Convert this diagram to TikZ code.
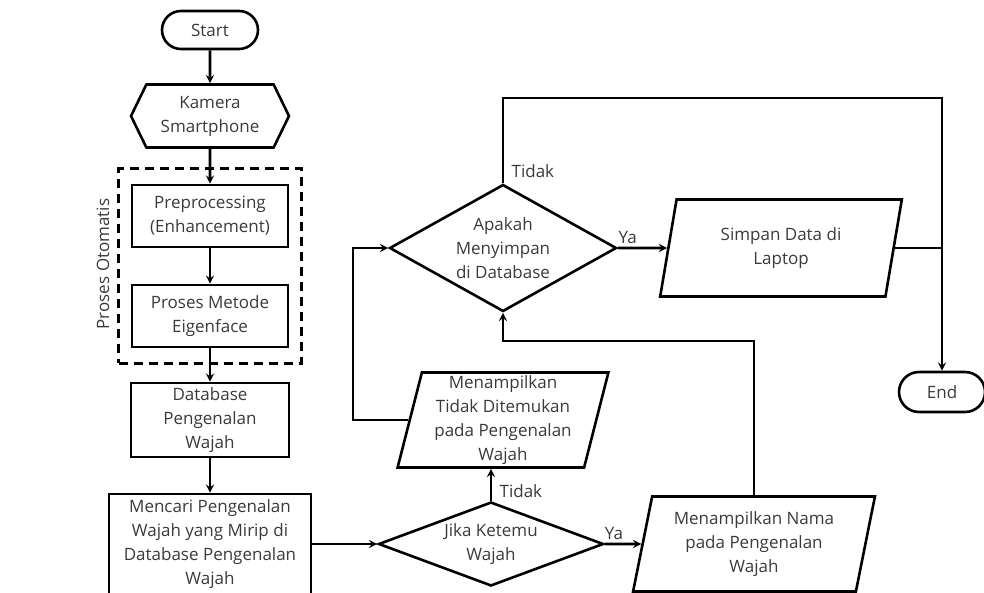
\documentclass[tikz,border=0pt]{standalone}
\usepackage{fontspec}
\setmainfont{Open Sans}
\usepackage{tikz}
\usetikzlibrary{shapes.geometric,shapes.misc,shapes.symbols,fit,positioning}
\definecolor{textgray}{HTML}{3A3A3A}

\begin{document}
\begin{tikzpicture}[x=1pt, y=-1pt,
    every node/.style={text=textgray, align=center, font=\fontsize{17}{24}\selectfont},
    shapeline/.style={draw=black, line width=2.6pt},
    terminal/.style={shapeline, rounded rectangle, minimum width=96pt, minimum height=38pt, inner sep=0pt},
    hexa/.style={shapeline, signal, signal to=west and east, signal pointer angle=128, minimum width=158pt, minimum height=63pt, inner sep=0pt},
    process/.style={shapeline, rectangle, minimum width=156pt, minimum height=62pt, inner sep=0pt},
    decision/.style={shapeline, diamond, inner sep=0pt},
    io/.style={shapeline, trapezium, trapezium left angle=77, trapezium right angle=103, trapezium stretches=true, inner sep=0pt},
    flow/.style={line width=2.6pt, >=stealth}
]
    \useasboundingbox (0,0) rectangle (984,592);

    % Left column
    \node[terminal] (start) at (210,30) {Start};
    \node[hexa] (kamera) at (210,116) {Kamera\\Smartphone};
    \node[process] (prep) at (210,216) {Preprocessing\\(Enhancement)};
    \node[process] (metode) at (210,316) {Proses Metode\\Eigenface};
    \node[process, minimum width=158pt, minimum height=74pt] (dbase) at (210,420) {Database\\Pengenalan\\Wajah};
    \node[process, minimum width=202pt, minimum height=100pt] (mencari) at (210,544) {Mencari Pengenalan\\Wajah yang Mirip di\\Database Pengenalan\\Wajah};

    % Automatic steps
    \node[draw, line width=2.6pt, dash pattern=on 9pt off 6pt, fit=(prep)(metode), inner xsep=12pt, inner ysep=15pt] (otomatis) {};
    \node[rotate=90] (otomatislabel) at (103,264) {Proses Otomatis};

    % Decisions and outputs
    \node[decision, aspect=2.68, minimum width=225pt, minimum height=84pt] (jika) at (491,544) {Jika Ketemu\\Wajah};
    \node[io, minimum width=211pt, minimum height=95pt] (tidakmsg) at (503,420) {Menampilkan\\Tidak Ditemukan\\pada Pengenalan\\Wajah};
    \node[decision, aspect=1.79, minimum width=227pt, minimum height=127pt] (apakah) at (503,248) {Apakah\\Menyimpan\\di Database};
    \node[io, minimum width=242pt, minimum height=97pt] (simpan) at (781,248) {Simpan Data di\\Laptop};
    \node[io, minimum width=242pt, minimum height=95pt] (nama) at (754,544) {Menampilkan Nama\\pada Pengenalan\\Wajah};
    \node[terminal, minimum width=86pt, minimum height=40pt] (finish) at (942,392) {End};

    % Bends
    \coordinate (loopL) at (353,420);
    \coordinate (joinB) at (503,341);
    \coordinate (topR) at (942,98);

    % Edges
    \draw[flow] (start) edge[->] (kamera)
          (kamera) edge[->] (prep)
          (prep) edge[->] (metode)
          (metode) edge[->] (dbase)
          (dbase) edge[->] (mencari)
          (mencari) edge[->] (jika)
          (jika) edge[->] node[pos=0.3, right=4pt] {Tidak} (jika.north |- tidakmsg.south)
          (jika) edge[->] node[pos=0.25, above] {Ya} (nama)
          (apakah) edge[->] node[pos=0.2, above] {Ya} (simpan);
    \draw[flow, ->] (tidakmsg.west) -| (loopL) |- (apakah.west);
    \draw[flow, ->] (nama.north) |- (joinB) -- (apakah.south);
    \draw[flow, ->] (apakah.north) |- node[pos=0.07, right=4pt] {Tidak} (topR) -- (finish.north);
    \draw[flow] (simpan.east) -- (simpan.east -| topR);
\end{tikzpicture}
\end{document}
